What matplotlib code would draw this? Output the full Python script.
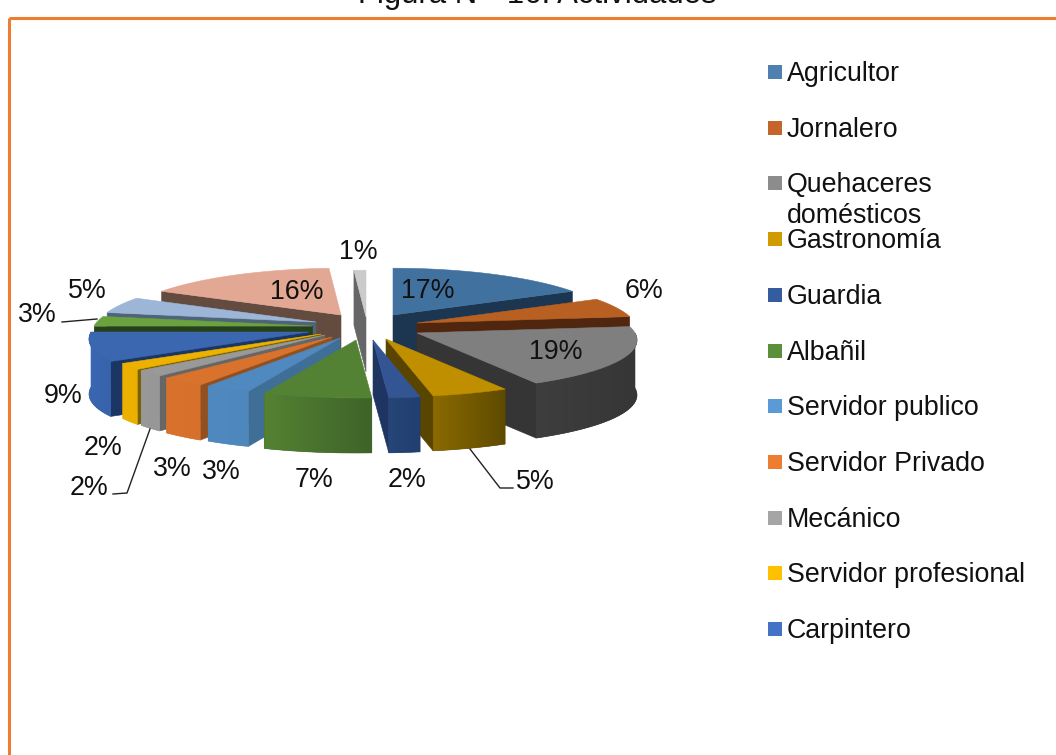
import numpy as np
import matplotlib
matplotlib.use("Agg")
import matplotlib.pyplot as plt
from matplotlib.colors import LinearSegmentedColormap
from matplotlib.patches import Polygon, Rectangle

plt.rcParams['font.family'] = ['Liberation Sans', 'DejaVu Sans']

# ---- data ----
values = [17, 6, 19, 5, 2, 7, 3, 3, 2, 2, 9, 3, 5, 16, 1]
legend_names = ["Agricultor", "Jornalero", "Quehaceres\ndomésticos", "Gastronomía", "Guardia",
                "Albañil", "Servidor publico", "Servidor Privado", "Mecánico",
                "Servidor profesional", "Carpintero"]
title = "Figura N°  16: Actividades"

# ---- styles ----
top_colors = ["#41719F", "#B86022", "#7F7F7F", "#BF8F00", "#335593", "#548235", "#5089BF",
              "#D8722C", "#999999", "#EDB100", "#3A67B0", "#6AA23F", "#9DB6D8", "#E2A893", "#CBCBCB"]
cut_colors = ["#1C3550", "#50270E", "#353535", "#5A4500", "#1D3560", "#3F6329", "#3F6F97",
              "#91501D", "#666666", "#7A6000", "#1B3564", "#264019", "#4F6478", "#634B3F", "#666666"]
side_left = ["#1C3550", "#50270E", "#3E3E3E", "#8A6A00", "#264578", "#548232", "#5089BF",
             "#D8722C", "#999999", "#EDB100", "#3A67B0", "#264019", "#4F6478", "#634B3F", "#666666"]
side_right = ["#1C3550", "#50270E", "#363636", "#5F4A00", "#213F6F", "#3F6329", "#4E87BC",
              "#D6702A", "#979797", "#EBAF00", "#3763AC", "#264019", "#4F6478", "#634B3F", "#666666"]
legend_colors = ["#4F81B0", "#C5652B", "#8C8C8C", "#CF9B00", "#355C9F", "#5B8F3A", "#5B9BD5",
                 "#ED7D31", "#A5A5A5", "#FFC000", "#4472C4"]
apex_px = [(393, 315), (417, 323), (417, 333), (386, 339), (373, 340), (356, 340), (340, 338),
           (332, 337), (325, 335), (321, 334), (309, 332), (312, 326), (316, 322), (341, 315), (366, 317)]
draw_order = [14, 13, 12, 11, 0, 1, 2, 10, 9, 8, 7, 6, 3, 4, 5]
label_px = [(428, 291), (644, 291), (556, 352), (535, 482), (407, 480), (314, 480), (221, 472),
            (172, 469), (103, 448), (89, 488), (63, 396), (37, 315), (87, 291), (297, 292), (358, 252)]
RX, PX, RY, PY, H = 218.0, 0.135, 51.8, 0.107, 55.0
FONT = 19.3

fig = plt.figure(figsize=(10.56, 7.55), dpi=100)
ax = fig.add_axes([0, 0, 1, 1])
ax.set_xlim(0, 1056)
ax.set_ylim(755, 0)
ax.axis("off")


def rim(apex, deg):
    t = np.radians(deg)
    return (apex[0] + RX / (1.0 + PX * np.cos(t)) * np.sin(t),
            apex[1] - RY / (1.0 + PY * np.cos(t)) * np.cos(t))


fractions = np.array(values, float) / sum(values) * 360.0
ends = np.cumsum(fractions)
starts = ends - fractions


def cut_face(apex, deg, color, z):
    x, y = rim(apex, deg)
    ax.fill([apex[0], x, x, apex[0]], [apex[1], y, y + H, apex[1] + H],
            facecolor=color, edgecolor=color, lw=0.4, zorder=z)


z = 1
for i in draw_order:
    a, b = starts[i], ends[i]
    apex = apex_px[i]
    if 0 < b < 180:
        cut_face(apex, b, cut_colors[i], z)
    if 180 < a < 360:
        cut_face(apex, a, cut_colors[i], z)
    lo, hi = max(a, 90), min(b, 270)
    if hi > lo:
        th = np.linspace(lo, hi, max(int(hi - lo) * 2, 6))
        top = np.array([rim(apex, d) for d in th])
        bottom = top[::-1] + [0, H]
        outline = np.vstack([top, bottom])
        # soft edge under the gradient, then the gradient clipped to the same shape
        ax.add_patch(Polygon(outline, closed=True, facecolor=side_right[i], edgecolor=side_right[i],
                             lw=0.4, zorder=z))
        cmap = LinearSegmentedColormap.from_list("s", [side_left[i], side_right[i]])
        xmin, xmax = outline[:, 0].min(), outline[:, 0].max()
        ymin, ymax = outline[:, 1].min(), outline[:, 1].max()
        im = ax.imshow(np.linspace(0, 1, 128)[None, :], cmap=cmap, vmin=0, vmax=1, aspect="auto",
                       extent=(xmin, xmax, ymax, ymin), zorder=z + 0.1, interpolation="bilinear")
        clip = Polygon(outline, closed=True, transform=ax.transData, facecolor="none", edgecolor="none")
        ax.add_patch(clip)
        im.set_clip_path(clip)
    th = np.linspace(a, b, max(int(b - a) * 2, 4))
    pts = [rim(apex, d) for d in th]
    ax.fill([apex[0]] + [p[0] for p in pts], [apex[1]] + [p[1] for p in pts],
            facecolor=top_colors[i], edgecolor=top_colors[i], lw=0.4, zorder=z + 0.5)
    z += 1
ax.set_xlim(0, 1056)
ax.set_ylim(755, 0)

# leader lines
for xs, ys in [([62, 97], [322, 319]), ([113, 127, 150], [494, 493, 429]), ([470, 500, 513], [449, 488, 488])]:
    ax.plot(xs, ys, color="#222222", lw=1.0, zorder=40)

# data labels
for v, (x, y) in zip(values, label_px):
    ax.text(x, y, f"{v}%", fontsize=FONT, ha="center", va="center", color="#111111", zorder=50)

# legend
for i, (name, col) in enumerate(zip(legend_names, legend_colors)):
    yc = 72 + i * 55.7
    ax.add_patch(Rectangle((768, yc - 7), 14, 14, facecolor=col, edgecolor="none", zorder=50))
    for k, part in enumerate(name.split("\n")):
        ax.text(787, yc + 9 + k * 31, part, fontsize=FONT, ha="left", va="baseline", color="#111111", zorder=50)

# frame
ax.plot([8.5, 8.5], [755, 18], color="#ED7D31", lw=2.2, zorder=60, solid_capstyle="butt")
ax.plot([8.5, 1056], [18, 18], color="#ED7D31", lw=2.2, zorder=60, solid_capstyle="butt")

# title, cut by the top of the picture as in the reference
ax.text(537, 3.5, title, fontsize=22.4, ha="center", va="baseline", color="#111111", zorder=60, clip_on=False)

fig.savefig("out.png", dpi=100, facecolor="white")
